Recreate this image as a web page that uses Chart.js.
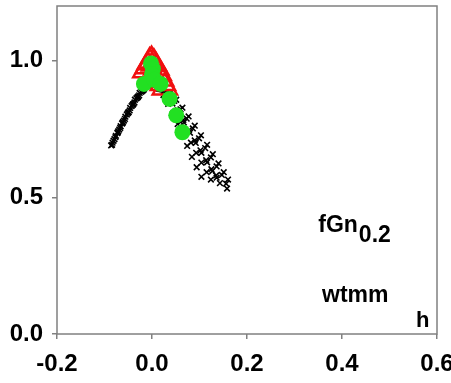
<!DOCTYPE html>
<html>
<head>
<meta charset="utf-8">
<script src="https://cdn.jsdelivr.net/npm/chart.js@4/dist/chart.umd.min.js"></script>
<style>
  body { margin: 0; background: #fff; }
  canvas { display: block; }
</style>
</head>
<body>
<canvas id="specChart" width="451" height="383"></canvas>
<script>
// singularity spectra D(h), one list of [h, D] per realisation
var curve1 = [[-0.086,0.69],[-0.076,0.725],[-0.066,0.76],[-0.056,0.795],[-0.046,0.827],[-0.036,0.857],[-0.026,0.882],[-0.016,0.902],[-0.006,0.913],[0.004,0.912],[0.014,0.898],[0.024,0.874],[0.034,0.842],[0.044,0.806],[0.054,0.768],[0.064,0.728],[0.074,0.688],[0.084,0.648],[0.094,0.61],[0.104,0.575]];
var curve2 = [[-0.083,0.70],[-0.073,0.735],[-0.063,0.77],[-0.053,0.803],[-0.043,0.834],[-0.033,0.862],[-0.023,0.886],[-0.013,0.905],[-0.003,0.915],[0.007,0.912],[0.017,0.897],[0.027,0.875],[0.038,0.846],[0.049,0.812],[0.06,0.776],[0.071,0.738],[0.082,0.70],[0.093,0.663],[0.104,0.627],[0.115,0.592],[0.124,0.565]];
var curve3 = [[-0.081,0.707],[-0.071,0.742],[-0.061,0.776],[-0.051,0.808],[-0.041,0.838],[-0.031,0.865],[-0.021,0.889],[-0.011,0.907],[-0.001,0.916],[0.009,0.912],[0.019,0.898],[0.03,0.877],[0.042,0.85],[0.054,0.818],[0.066,0.783],[0.078,0.746],[0.09,0.708],[0.102,0.672],[0.114,0.636],[0.125,0.603],[0.136,0.572],[0.143,0.552]];
var curve4 = [[-0.079,0.713],[-0.069,0.748],[-0.059,0.781],[-0.049,0.812],[-0.039,0.842],[-0.029,0.869],[-0.019,0.892],[-0.009,0.909],[0.001,0.917],[0.011,0.912],[0.022,0.899],[0.034,0.879],[0.047,0.853],[0.06,0.822],[0.073,0.788],[0.086,0.752],[0.099,0.716],[0.112,0.68],[0.124,0.646],[0.136,0.613],[0.147,0.582],[0.156,0.55]];
var curve5 = [[-0.077,0.72],[-0.067,0.754],[-0.057,0.787],[-0.047,0.818],[-0.037,0.847],[-0.027,0.873],[-0.017,0.895],[-0.007,0.911],[0.003,0.917],[0.013,0.913],[0.025,0.9],[0.038,0.881],[0.051,0.857],[0.064,0.828],[0.077,0.796],[0.09,0.762],[0.103,0.727],[0.116,0.692],[0.128,0.658],[0.14,0.624],[0.151,0.592],[0.16,0.565],[0.158,0.532]];
var curve6 = [[-0.084,0.692],[-0.072,0.738],[-0.062,0.772],[-0.05,0.81],[-0.04,0.84],[-0.03,0.867],[-0.02,0.891],[-0.01,0.908],[0.0,0.914],[0.01,0.91],[0.02,0.895],[0.031,0.872],[0.043,0.843],[0.055,0.81],[0.067,0.774],[0.08,0.736],[0.092,0.699],[0.104,0.663],[0.116,0.628],[0.127,0.596],[0.135,0.58]];
var redPoints = [[-0.014,0.965],[-0.009,0.98],[-0.005,0.994],[-0.001,1.0],[0.004,0.99],[0.009,0.975],[0.014,0.955],[0.019,0.935],[0.023,0.918],[0.027,0.902]];
var greenPoints = [[-0.002,0.99],[0.002,0.97],[0.0,0.95],[-0.017,0.915],[0.005,0.93],[0.018,0.915],[0.037,0.86],[0.051,0.80],[0.064,0.738]];

var xTicks = [-0.2, 0.0, 0.2, 0.4, 0.6];
var yTicks = [0.0, 0.5, 1.0];

function toXY(arr) {
  return arr.map(function (p) { return {x: p[0], y: p[1]}; });
}

var tickFont = {family: 'Liberation Sans', size: 24, weight: 'bold'};
var axisGrey = '#808080';

// frame round the plot + the text labels
var frameAndText = {
  id: 'frameAndText',
  afterDraw: function (chart) {
    var ctx = chart.ctx, a = chart.chartArea;
    var sx = chart.scales.x, sy = chart.scales.y;
    ctx.save();
    ctx.strokeStyle = axisGrey;
    ctx.lineWidth = 1.5;
    ctx.strokeRect(a.left, a.top, a.right - a.left, a.bottom - a.top);

    ctx.fillStyle = '#000';
    ctx.textBaseline = 'alphabetic';
    ctx.textAlign = 'left';
    ctx.font = 'bold 23px "Liberation Sans"';
    var fx = sx.getPixelForValue(0.35), fy = sy.getPixelForValue(0.373);
    ctx.fillText('fGn', fx, fy);
    var w = ctx.measureText('fGn').width;
    ctx.fillText('0.2', fx + w + 1, fy + 10);
    ctx.fillText('wtmm', sx.getPixelForValue(0.358), sy.getPixelForValue(0.117));
    ctx.font = 'bold 22px "Liberation Sans"';
    ctx.fillText('h', sx.getPixelForValue(0.556), sy.getPixelForValue(0.026));
    ctx.restore();
  }
};

var blackSet = function (arr) {
  return {
    data: toXY(arr),
    pointStyle: 'crossRot',
    pointRadius: 4,
    borderColor: '#000',
    borderWidth: 1.6,
    showLine: false,
    order: 3
  };
};

var ctx = document.getElementById('specChart');
var specChart = new Chart(ctx, {
  type: 'scatter',
  data: {
    datasets: [
      {
        data: toXY(greenPoints),
        pointStyle: 'circle',
        pointRadius: 8,
        backgroundColor: '#22e022',
        borderColor: '#22e022',
        borderWidth: 0,
        order: 1
      },
      {
        data: toXY(redPoints),
        pointStyle: 'triangle',
        pointRadius: 14,
        backgroundColor: 'rgba(0,0,0,0)',
        borderColor: '#f01010',
        borderWidth: 2.5,
        order: 2
      },
      blackSet(curve1), blackSet(curve2), blackSet(curve3),
      blackSet(curve4), blackSet(curve5), blackSet(curve6)
    ]
  },
  options: {
    responsive: false,
    animation: false,
    layout: {autoPadding: false, padding: {left: 0, right: 14, top: 6, bottom: 0}},
    plugins: {legend: {display: false}, tooltip: {enabled: false}},
    scales: {
      x: {
        type: 'linear',
        min: -0.2, max: 0.6,
        afterBuildTicks: function (s) { s.ticks = xTicks.map(function (v) { return {value: v}; }); },
        afterFit: function (s) { s.height = 49; s.paddingLeft = 0; s.paddingRight = 0; },
        border: {display: false},
        grid: {drawOnChartArea: false, drawTicks: true, tickLength: 5, color: axisGrey, lineWidth: 1.5},
        ticks: {font: tickFont, color: '#000', padding: 11, maxRotation: 0,
          callback: function (v) { return v.toFixed(1); }}
      },
      y: {
        type: 'linear',
        min: 0, max: 1.2,
        afterBuildTicks: function (s) { s.ticks = yTicks.map(function (v) { return {value: v}; }); },
        afterFit: function (s) { s.width = 57; s.paddingTop = 0; s.paddingBottom = 0; },
        border: {display: false},
        grid: {drawOnChartArea: false, drawTicks: true, tickLength: 5, color: axisGrey, lineWidth: 1.5},
        ticks: {font: tickFont, color: '#000', padding: 9,
          callback: function (v) { return v.toFixed(1); }}
      }
    }
  },
  plugins: [frameAndText]
});
</script>
</body>
</html>
